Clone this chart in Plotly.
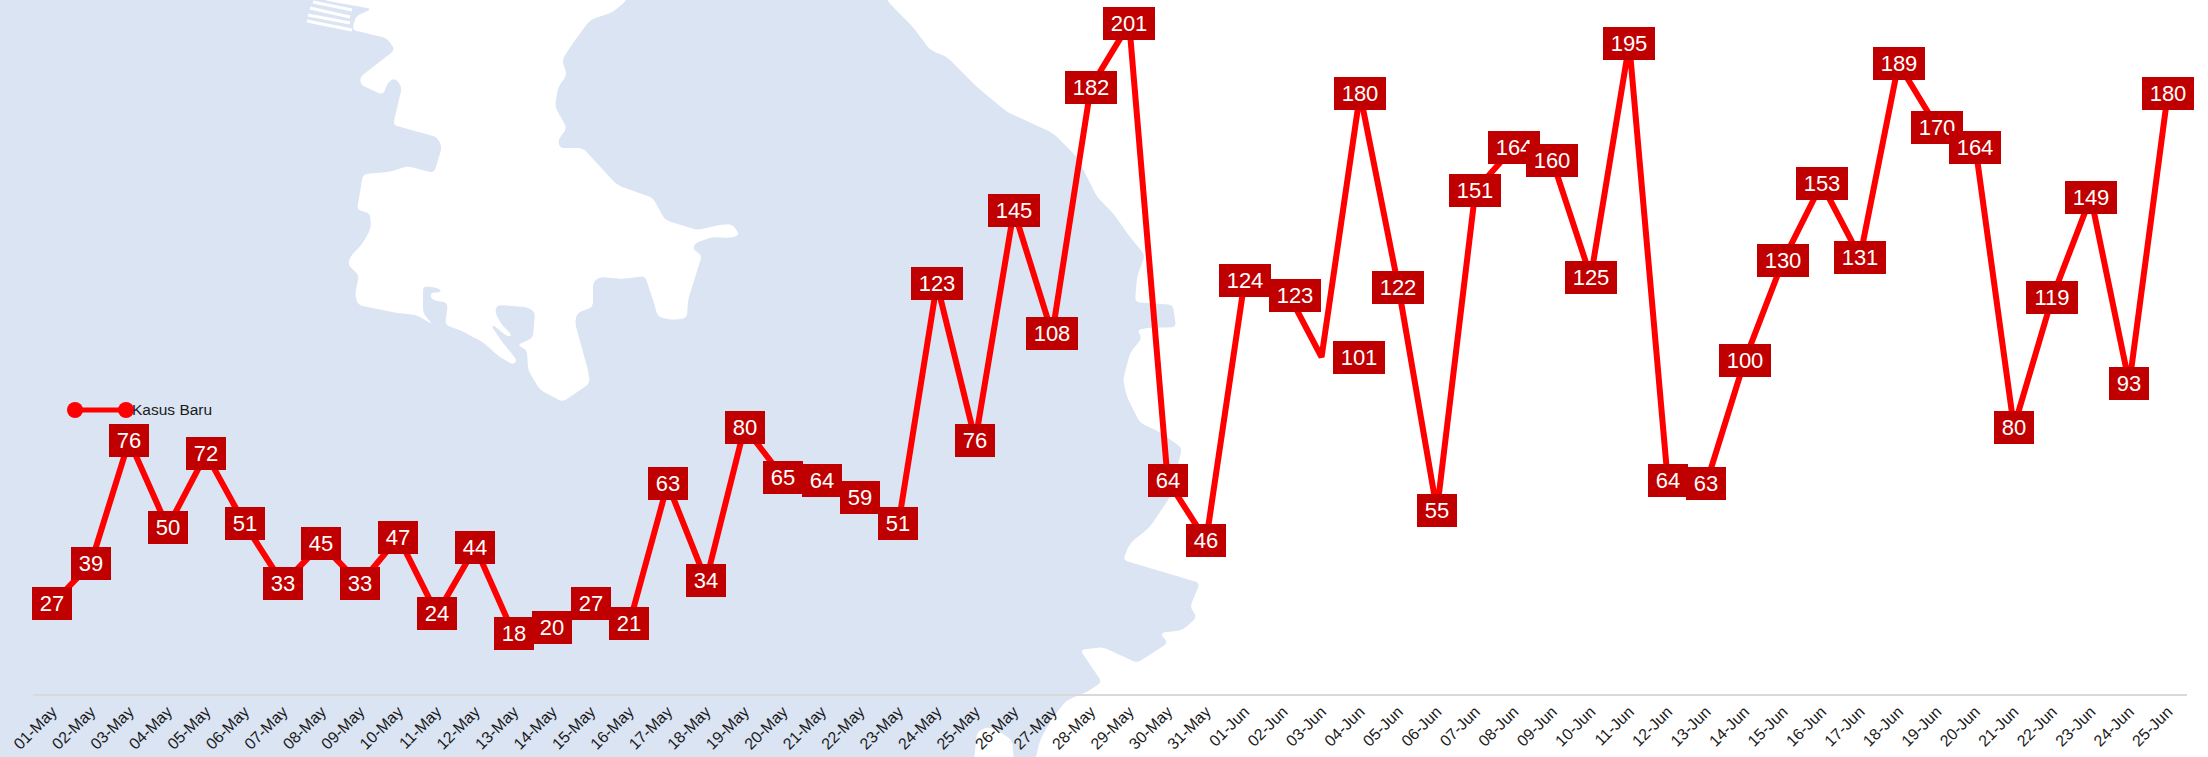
#!/usr/bin/env python3
import math
import plotly.graph_objects as go

WIDTH, HEIGHT = 2208, 757
LEFT, RIGHT, BOTTOM = 33, 21, 63

days = [
    "01-May", "02-May", "03-May", "04-May", "05-May", "06-May", "07-May", "08-May",
    "09-May", "10-May", "11-May", "12-May", "13-May", "14-May", "15-May", "16-May",
    "17-May", "18-May", "19-May", "20-May", "21-May", "22-May", "23-May", "24-May",
    "25-May", "26-May", "27-May", "28-May", "29-May", "30-May", "31-May", "01-Jun",
    "02-Jun", "03-Jun", "04-Jun", "05-Jun", "06-Jun", "07-Jun", "08-Jun", "09-Jun",
    "10-Jun", "11-Jun", "12-Jun", "13-Jun", "14-Jun", "15-Jun", "16-Jun", "17-Jun",
    "18-Jun", "19-Jun", "20-Jun", "21-Jun", "22-Jun", "23-Jun", "24-Jun", "25-Jun",
]
kasus_baru = [
    27, 39, 76, 50, 72, 51, 33, 45, 33, 47, 24, 44, 18, 20, 27, 21,
    63, 34, 80, 65, 64, 59, 51, 123, 76, 145, 108, 182, 201, 64, 46, 124,
    123, 101, 180, 122, 55, 151, 164, 160, 125, 195, 64, 63, 100, 130, 153, 131,
    189, 170, 164, 80, 119, 149, 93, 180,
]
series_name = "Kasus Baru"

# Labels that were nudged off their point in the original (pixels)
label_nudge = {"02-Jun": (12, -12), "03-Jun": (37, 0)}

# Faint map behind the chart, traced in page pixels
sea_outline = [
    (-40, -40), (880, -40), (887, 0), (893, 7), (913, 27), (930, 50), (947, 57), (977, 87), (1007, 112),
    (1053, 133), (1077, 157), (1087, 177), (1097, 197), (1113, 213), (1130, 237),
    (1145, 255), (1137, 277), (1135, 302), (1173, 305), (1176, 327), (1147, 328),
    (1137, 330), (1142, 338), (1130, 353), (1123, 380), (1127, 397), (1140, 423),
    (1160, 432), (1182, 448), (1170, 497), (1150, 527), (1130, 543), (1123, 560),
    (1200, 583), (1190, 607), (1197, 617), (1183, 630), (1160, 633), (1168, 643),
    (1137, 663), (1103, 647), (1080, 650), (1102, 682), (1087, 692), (1067, 700),
    (1053, 717), (1040, 740), (1033, 770), (1015, 770), (1012, 740), (997, 730),
    (987, 727), (977, 732), (973, 770), (-40, 770),
]
island_outline = [
    (323, -20), (323, 0), (372, 9), (356, 16), (352, 30), (387, 38), (395, 50), (360, 77), (361, 85),
    (383, 95), (388, 82), (395, 78), (402, 87), (393, 125), (437, 137), (442, 147),
    (434, 173), (407, 166), (390, 172), (363, 174), (357, 210), (370, 213), (371, 228),
    (363, 243), (350, 257), (348, 265), (359, 275), (355, 295), (358, 305), (397, 313),
    (417, 315), (433, 325), (423, 313), (423, 286), (438, 288), (442, 292), (430, 293),
    (432, 300), (448, 303), (445, 325), (460, 330), (473, 337), (483, 342), (497, 355),
    (513, 365), (517, 360), (503, 343), (492, 327), (493, 325), (508, 337), (512, 335),
    (502, 325), (495, 313), (497, 305), (527, 307), (535, 312), (533, 338), (517, 345),
    (527, 350), (528, 370), (540, 390), (563, 402), (590, 383), (588, 370), (575, 323),
    (577, 313), (593, 307), (593, 282), (600, 277), (623, 279), (645, 276), (653, 300),
    (658, 317), (673, 320), (687, 318), (688, 300), (702, 255), (693, 250), (695, 243),
    (713, 237), (730, 238), (740, 235), (732, 224), (720, 225), (697, 230), (665, 220),
    (653, 198), (617, 185), (583, 148), (560, 148), (558, 140), (567, 128), (555, 107),
    (558, 87), (567, 75), (562, 60), (573, 43), (590, 20), (613, 12), (627, 0), (630, -20),
]
ladder_strips = [
    [(313, 2), (352, 10)], [(310, 8), (350, 17)], [(308, 15), (350, 23)], [(307, 21), (352, 30)],
]
SEA = "#dae4f3"
RED_LINE = "#ff0000"
RED_BOX = "#c00000"


def paper_x(px):
    return (px - LEFT) / (WIDTH - LEFT - RIGHT)


def paper_y(py):
    return 1 - py / (HEIGHT - BOTTOM)


def xy(p):
    return f"{paper_x(p[0]):.5f},{paper_y(p[1]):.5f}"


def toward(p, q, radius=5):
    # Point a short way from p along the edge to q
    d = math.dist(p, q)
    t = min(0.45, radius / d) if d else 0
    return (p[0] + (q[0] - p[0]) * t, p[1] + (q[1] - p[1]) * t)


def rounded_path(points):
    # Soften each corner a little, the traced map is a blurry photo
    n = len(points)
    cmds = []
    for i, p in enumerate(points):
        a = toward(p, points[i - 1])
        b = toward(p, points[(i + 1) % n])
        cmds.append(f"{'M' if i == 0 else 'L'}{xy(a)} Q{xy(p)} {xy(b)}")
    return " ".join(cmds) + " Z"


shapes = [
    dict(type="path", xref="paper", yref="paper", path=rounded_path(sea_outline),
         fillcolor=SEA, line_width=0, layer="below"),
    dict(type="path", xref="paper", yref="paper", path=rounded_path(island_outline),
         fillcolor="white", line_width=0, layer="below"),
]
for strip in ladder_strips:
    shapes.append(dict(type="path", xref="paper", yref="paper", path=f"M{xy(strip[0])} L{xy(strip[1])}",
                       line=dict(color="white", width=3), layer="below"))

# Legend key: a line with a dot at each end
shapes.append(dict(type="line", xref="paper", yref="paper",
                   x0=paper_x(75), x1=paper_x(126), y0=paper_y(410), y1=paper_y(410),
                   line=dict(color=RED_LINE, width=5)))
for cx in (75, 126):
    shapes.append(dict(type="circle", xref="paper", yref="paper",
                       x0=paper_x(cx - 8), x1=paper_x(cx + 8), y0=paper_y(402), y1=paper_y(418),
                       fillcolor=RED_LINE, line_width=0))

annotations = []
for day, value in zip(days, kasus_baru):
    dx, dy = label_nudge.get(day, (0, 0))
    annotations.append(dict(
        x=day, y=value, xref="x", yref="y", text=str(value), showarrow=False,
        xshift=dx, yshift=dy, width=40 if value < 100 else 52, height=33,
        borderpad=0, borderwidth=0, bgcolor=RED_BOX,
        font=dict(family="Liberation Sans", size=22, color="white"),
    ))
annotations.append(dict(
    x=paper_x(132), y=paper_y(409), xref="paper", yref="paper", text=series_name,
    xanchor="left", showarrow=False, borderpad=0, borderwidth=0,
    font=dict(family="Liberation Sans", size=15.5, color="#1a1a1a"),
))

fig = go.Figure(go.Scatter(
    x=days, y=kasus_baru, mode="lines", name=series_name,
    line=dict(color=RED_LINE, width=6), showlegend=False,
))
fig.update_layout(
    width=WIDTH, height=HEIGHT,
    margin=dict(l=LEFT, r=RIGHT, t=0, b=BOTTOM, pad=0, autoexpand=False),
    paper_bgcolor="white", plot_bgcolor="rgba(0,0,0,0)",
    shapes=shapes, annotations=annotations,
    font=dict(family="Liberation Sans"),
    xaxis=dict(type="category", categoryorder="array", categoryarray=days,
               range=[-0.5, 55.5], tickangle=-45, showgrid=False, ticks="",
               showline=True, linecolor="#d9d9d9", linewidth=2,
               tickfont=dict(size=16, color="#1a1a1a"), tickmode="array",
               tickvals=days, ticktext=days),
    yaxis=dict(range=[0, 694 / 3.335], visible=False),
)

fig.write_html(
    "out.html",
    config={"displayModeBar": False},
    post_script="document.body.style.margin='0';document.body.style.overflow='hidden';",
)
